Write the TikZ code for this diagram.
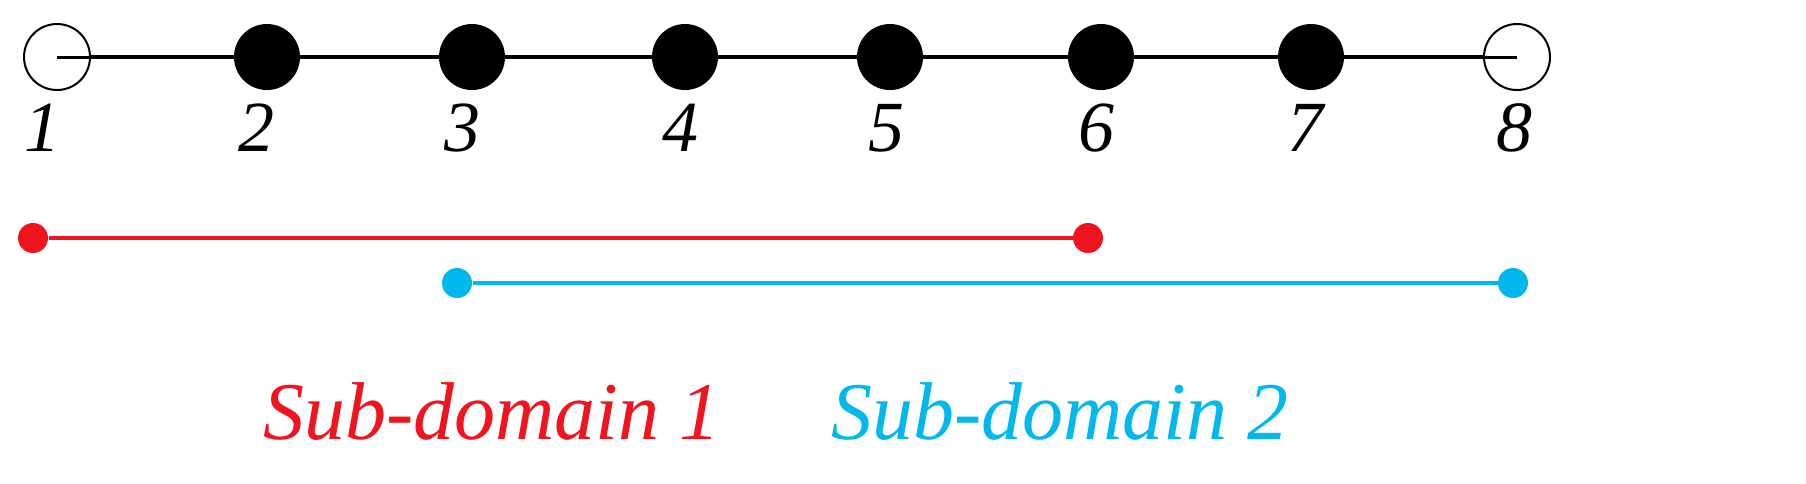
\documentclass[tikz,border=0pt]{standalone}
\usepackage{fontspec}
\setmainfont{Liberation Serif}
\definecolor{sdred}{RGB}{240,20,30}
\definecolor{sdblue}{RGB}{0,184,235}
\begin{document}
\begin{tikzpicture}[x=0.4pt,y=-0.4pt,
  full/.style={circle,fill=black,minimum size=26.4pt,inner sep=0pt},
  open/.style={circle,draw=black,line width=0.8pt,fill=white,minimum size=26.4pt,inner sep=0pt},
  num/.style={font=\fontsize{28.8}{28.8}\selectfont\itshape,inner sep=0pt},
  rdot/.style={circle,fill=sdred,minimum size=12pt,inner sep=0pt},
  bdot/.style={circle,fill=sdblue,minimum size=12pt,inner sep=0pt},
  lab/.style={font=\fontsize{32.8}{32.8}\selectfont\itshape,inner sep=0pt}]
\useasboundingbox (0,0) rectangle (1806,483);
\draw[line width=1.6pt] (57,57) -- (1517,57);
\node[open] (n1) at (57,57) {};
\node[full] (n2) at (267,57) {};
\node[full] (n3) at (472,57) {};
\node[full] (n4) at (685,57) {};
\node[full] (n5) at (890,57) {};
\node[full] (n6) at (1101,57) {};
\node[full] (n7) at (1311,57) {};
\node[open] (n8) at (1517,57) {};
\draw[line width=1.2pt] (57,57) -- (n1.east);
\draw[line width=1.2pt] (n8.west) -- (1517,57);
\foreach \i/\x in {1/42,2/256,3/462,4/680,5/886,6/1096,7/1305,8/1514}
  \node[num] (l\i) at (\x,128) {\i};
\node[rdot] (r1) at (33,238) {};
\node[rdot] (r2) at (1088,238) {};
\draw[sdred,line width=1.6pt] (r1) -- (r2);
\node[bdot] (b1) at (457,283) {};
\node[bdot] (b2) at (1513,283) {};
\draw[sdblue,line width=1.6pt] (b1) -- (b2);
\node[lab,text=sdred] (s1) at (492,412) {Sub-domain 1};
\node[lab,text=sdblue] (s2) at (1060,412) {Sub-domain 2};
\end{tikzpicture}
\end{document}
